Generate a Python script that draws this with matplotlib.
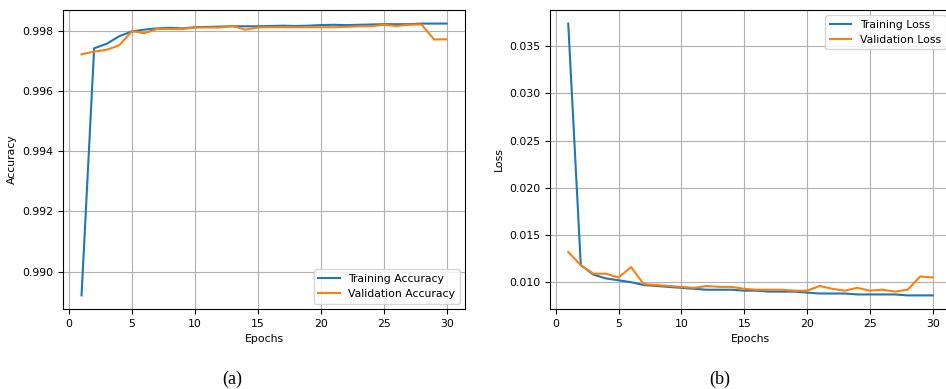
import matplotlib
matplotlib.use("Agg")
import matplotlib.pyplot as plt

epochs = list(range(1, 31))

train_acc = [0.98921, 0.99742, 0.99757, 0.99782, 0.99798, 0.99804, 0.99808, 0.99810, 0.99808, 0.99812,
             0.99813, 0.99814, 0.99815, 0.99815, 0.99815, 0.99816, 0.99817, 0.99816, 0.99817, 0.99819,
             0.99820, 0.99819, 0.99820, 0.99821, 0.99822, 0.99822, 0.99822, 0.99824, 0.99824, 0.99824]
val_acc = [0.99722, 0.99731, 0.99737, 0.99752, 0.99799, 0.99792, 0.99806, 0.99806, 0.99806, 0.99811,
           0.99811, 0.99811, 0.99816, 0.99804, 0.99811, 0.99812, 0.99812, 0.99812, 0.99812, 0.99812,
           0.99812, 0.99813, 0.99815, 0.99815, 0.99820, 0.99816, 0.99820, 0.99821, 0.99771, 0.99772]

train_loss = [0.0374, 0.0118, 0.0108, 0.0104, 0.0102, 0.0100, 0.0097, 0.0096, 0.0095, 0.0094,
              0.0093, 0.0092, 0.0092, 0.0092, 0.0091, 0.0091, 0.0090, 0.0090, 0.0090, 0.0089,
              0.0088, 0.0088, 0.0088, 0.0087, 0.0087, 0.0087, 0.0087, 0.0086, 0.0086, 0.0086]
val_loss = [0.0132, 0.0118, 0.0109, 0.0109, 0.0105, 0.0116, 0.0098, 0.0097, 0.0096, 0.0095,
            0.0094, 0.0096, 0.0095, 0.0095, 0.0093, 0.0092, 0.0092, 0.0092, 0.0091, 0.0091,
            0.0096, 0.0093, 0.0091, 0.0094, 0.0091, 0.0092, 0.0090, 0.0092, 0.0106, 0.0105]

acc_ticks = [0.990, 0.992, 0.994, 0.996, 0.998]
loss_ticks = [0.010, 0.015, 0.020, 0.025, 0.030, 0.035]
x_ticks = [0, 5, 10, 15, 20, 25, 30]

FS = 7.8
plt.rcParams['font.family'] = ['DejaVu Sans']

fig = plt.figure(figsize=(9.46, 3.89), dpi=100)
ax1 = fig.add_axes([0.0669, 0.2057, 0.4246, 0.7686])
ax2 = fig.add_axes([0.5814, 0.2057, 0.4239, 0.7686])

ax1.plot(epochs, train_acc, label="Training Accuracy", color="#1f77b4", lw=1.5)
ax1.plot(epochs, val_acc, label="Validation Accuracy", color="#ff7f0e", lw=1.5)
ax1.set_yticks(acc_ticks)
ax1.set_yticklabels([f"{t:.3f}" for t in acc_ticks])
ax1.set_ylabel("Accuracy", fontsize=FS)
ax1.legend(loc="lower right", fontsize=FS)

ax2.plot(epochs, train_loss, label="Training Loss", color="#1f77b4", lw=1.5)
ax2.plot(epochs, val_loss, label="Validation Loss", color="#ff7f0e", lw=1.5)
ax2.set_yticks(loss_ticks)
ax2.set_yticklabels([f"{t:.3f}" for t in loss_ticks])
ax2.set_ylabel("Loss", fontsize=FS)
ax2.legend(loc="upper right", fontsize=FS)

for ax in (ax1, ax2):
    ax.set_xticks(x_ticks)
    ax.set_xlabel("Epochs", fontsize=FS)
    ax.tick_params(labelsize=FS)
    ax.grid(True)

fig.text(0.246, 0.025, "(a)", ha="center", va="center", fontsize=13, family=["Liberation Serif"])
fig.text(0.761, 0.025, "(b)", ha="center", va="center", fontsize=13, family=["Liberation Serif"])

fig.savefig("out.png", dpi=100)
